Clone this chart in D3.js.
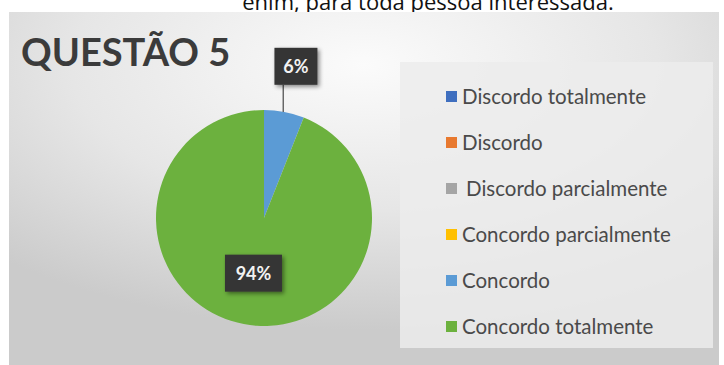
<!DOCTYPE html>
<html><head><meta charset="utf-8">
<script src="https://cdn.jsdelivr.net/npm/d3@7"></script>
<style>html,body{margin:0;padding:0;background:#fff;overflow:hidden}</style>
</head><body>
<svg id="c" width="724" height="365"></svg>
<script>
const categories = ["Discordo totalmente","Discordo","Discordo parcialmente","Concordo parcialmente","Concordo","Concordo totalmente"];
const values = [0,0,0,0,6,94];
const colors = ["#3f6fbf","#e8792f","#a5a5a5","#ffc000","#5b9bd5","#6cb13e"];
const title = "QUESTÃO 5";
const topText = "enim, para toda pessoa interessada.";

const svg = d3.select("#c");
const defs = svg.append("defs");
const rg = defs.append("radialGradient").attr("id","bg").attr("cx","0.5").attr("cy","0.15").attr("r","0.75")
  .attr("gradientUnits","objectBoundingBox");
rg.append("stop").attr("offset","0").attr("stop-color","#fbfbfb");
rg.append("stop").attr("offset","0.55").attr("stop-color","#e6e6e6");
rg.append("stop").attr("offset","1").attr("stop-color","#cbcbcb");
const f = defs.append("filter").attr("id","sh").attr("x","-30%").attr("y","-30%").attr("width","170%").attr("height","170%");
f.append("feDropShadow").attr("dx",2).attr("dy",2).attr("stdDeviation",2).attr("flood-color","#000").attr("flood-opacity",0.45);

// page text (cut at top)
svg.append("text").attr("x",428).attr("y",10).attr("text-anchor","middle")
  .attr("font-family","Open Sans").attr("font-size",22).attr("fill","#111").text(topText);

// chart panel
svg.append("rect").attr("x",9).attr("y",12).attr("width",710).attr("height",353).attr("fill","url(#bg)");
// legend panel
svg.append("rect").attr("x",400).attr("y",62).attr("width",313).attr("height",286).attr("fill","#ececec").attr("opacity",0.85);

svg.append("text").attr("x",21).attr("y",66).attr("font-family","Lato").attr("font-weight","bold")
  .attr("font-size",38).attr("fill","#3b3b3b").text(title);

const cx = 264, cy = 218, r = 108;
const pie = d3.pie().sort(null).value(d => d)(values);
const arc = d3.arc().innerRadius(0).outerRadius(r);
const g = svg.append("g").attr("transform",`translate(${cx},${cy})`);
g.selectAll("path").data(pie).join("path").attr("d",arc).attr("fill",(d,i)=>colors[i]);

const total = d3.sum(values);
const inArc = d3.arc().innerRadius(r*0.52).outerRadius(r*0.52);
const outArc = d3.arc().innerRadius(r*1.43).outerRadius(r*1.43);
const edgeArc = d3.arc().innerRadius(r).outerRadius(r);
pie.forEach((d,i) => {
  if (!values[i]) return;
  const pct = Math.round(values[i]/total*100) + "%";
  const outside = values[i] < 10;
  const [lx0,ly] = (outside ? outArc : inArc).centroid(d);
  const lx = outside ? lx0 + 3 : lx0;
  const w = outside ? 43 : 57, h = 37;
  if (outside) {
    const [ex,ey] = edgeArc.centroid(d);
    g.append("line").attr("x1",ex-1).attr("y1",ey).attr("x2",ex-1).attr("y2",ly+h/2)
      .attr("stroke","#555").attr("stroke-width",1.3);
  }
  g.append("rect").attr("x",lx-w/2).attr("y",ly-h/2).attr("width",w).attr("height",h)
    .attr("fill","#353535").attr("filter","url(#sh)");
  g.append("text").attr("x",lx).attr("y",ly+6.5).attr("text-anchor","middle")
    .attr("font-family","Lato").attr("font-weight","bold").attr("font-size",18).attr("fill","#f2f2f2").text(pct);
});

const legY = d3.scalePoint().domain(categories).range([97,327]);
const lg = svg.append("g").selectAll("g").data(categories).join("g")
  .attr("transform",d=>`translate(446,${legY(d)})`);
lg.append("rect").attr("x",0).attr("y",-6).attr("width",11).attr("height",11).attr("fill",(d,i)=>colors[i]);
lg.append("text").attr("x",(d,i)=> i===2 ? 20 : 16).attr("y",6.5).attr("font-family","Lato").attr("font-size",20.5)
  .attr("fill","#4a4a4a").text(d=>d);
</script>
</body></html>
